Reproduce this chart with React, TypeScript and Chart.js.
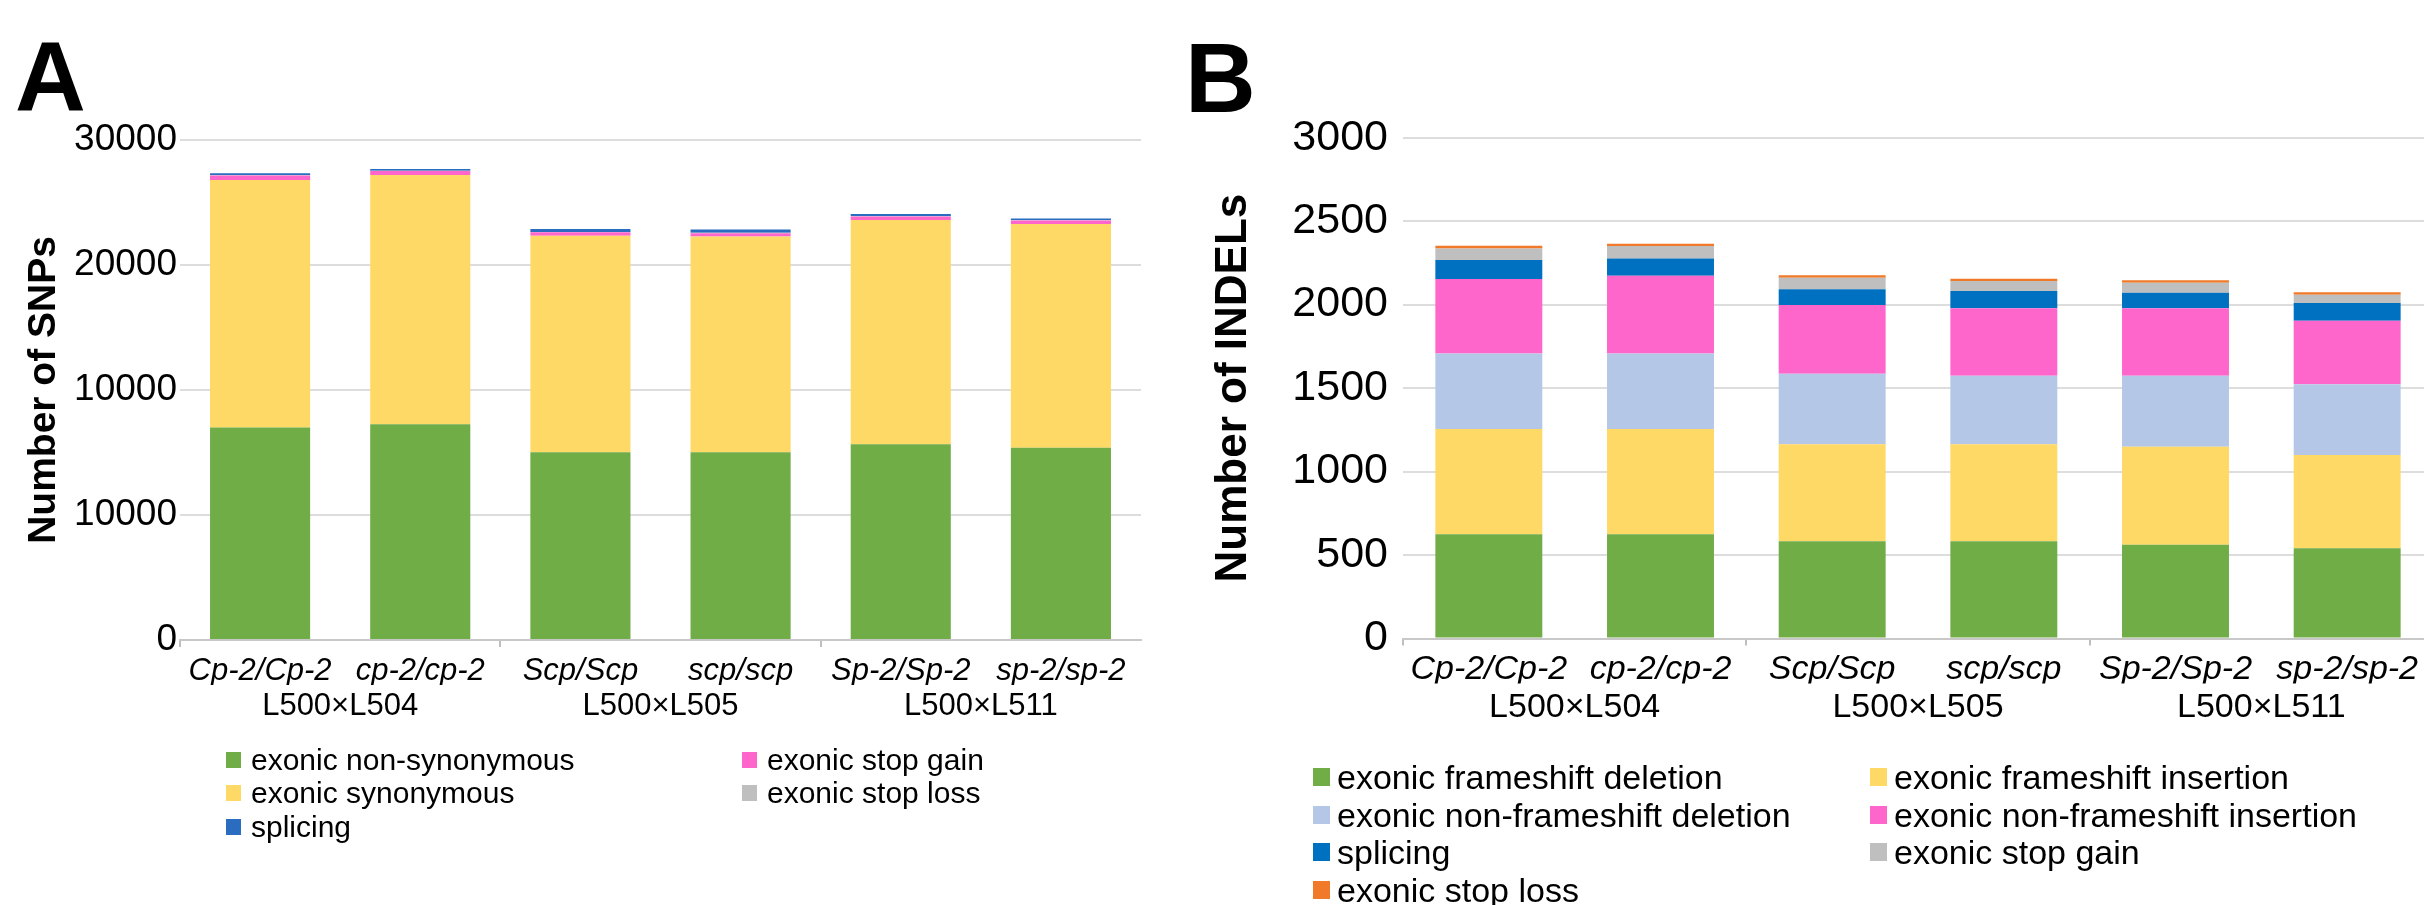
import React, { useEffect, useRef } from "react";
import { Chart, registerables } from "chart.js";

Chart.register(...registerables);

// ---------------- data ----------------
const genotypes = ["Cp-2/Cp-2", "cp-2/cp-2", "Scp/Scp", "scp/scp", "Sp-2/Sp-2", "sp-2/sp-2"];
const crosses = ["L500×L504", "L500×L505", "L500×L511"];

// Panel A: the reference y axis repeats the "10000" label; values are read on its evenly spaced gridlines
const snpTickLabels = ["0", "10000", "10000", "20000", "30000"];
const snpNonSynonymous = [17000, 17260, 15020, 15020, 15660, 15380];
const snpSynonymous = [19800, 19940, 17330, 17260, 17940, 17900];
const snpStopGain = [370, 320, 270, 270, 290, 290];
const snpStopLoss = [30, 30, 30, 30, 30, 30];
const snpSplicing = [140, 130, 230, 260, 160, 130];

// Panel B
const indelFrameshiftDel = [624, 624, 582, 582, 562, 540];
const indelFrameshiftIns = [631, 631, 581, 581, 587, 559];
const indelNonFrameshiftDel = [453, 453, 423, 411, 425, 424];
const indelNonFrameshiftIns = [445, 465, 412, 404, 404, 381];
const indelSplicing = [114, 104, 94, 104, 93, 106];
const indelStopGain = [70, 74, 69, 59, 60, 49];
const indelStopLoss = [16, 14, 15, 14, 15, 15];

// ---------------- styles ----------------
const FONT = '"Liberation Sans", Arial, Helvetica, sans-serif';
const GREEN = "#70AD47";
const YELLOW = "#FFD966";
const PINK = "#FF66CC";
const GREY = "#BFBFBF";
const BLUE_A = "#2A6CC0";
const BLUE_B = "#0070C0";
const LIGHTBLUE = "#B4C7E7";
const ORANGE = "#F07A2A";

type Series = { label: string; data: number[]; color: string };

const snpSeries: Series[] = [
  { label: "exonic non-synonymous", data: snpNonSynonymous, color: GREEN },
  { label: "exonic synonymous", data: snpSynonymous, color: YELLOW },
  { label: "exonic stop gain", data: snpStopGain, color: PINK },
  { label: "exonic stop loss", data: snpStopLoss, color: GREY },
  { label: "splicing", data: snpSplicing, color: BLUE_A },
];

const indelSeries: Series[] = [
  { label: "exonic frameshift deletion", data: indelFrameshiftDel, color: GREEN },
  { label: "exonic frameshift insertion", data: indelFrameshiftIns, color: YELLOW },
  { label: "exonic non-frameshift deletion", data: indelNonFrameshiftDel, color: LIGHTBLUE },
  { label: "exonic non-frameshift insertion", data: indelNonFrameshiftIns, color: PINK },
  { label: "splicing", data: indelSplicing, color: BLUE_B },
  { label: "exonic stop gain", data: indelStopGain, color: GREY },
  { label: "exonic stop loss", data: indelStopLoss, color: ORANGE },
];

type PanelCfg = {
  series: Series[];
  padding: { left: number; top: number; right: number; bottom: number };
  yWidth: number;
  yMax: number;
  yStep: number;
  yTickFont: number;
  yTickPad: number;
  yTickLabels?: string[];
  title: string;
  titleFont: number;
  titlePad: number;
  xFont: number;
  xPad: number;
  x2Pad: number;
  barPct: number;
};

function buildConfig(p: PanelCfg): any {
  return {
    type: "bar",
    data: {
      labels: genotypes,
      datasets: p.series.map((s) => ({
        label: s.label,
        data: s.data,
        backgroundColor: s.color,
        borderWidth: 0,
        categoryPercentage: 1,
        barPercentage: p.barPct,
      })),
    },
    options: {
      animation: false,
      responsive: false,
      maintainAspectRatio: false,
      events: [],
      layout: { padding: p.padding },
      plugins: { legend: { display: false }, tooltip: { enabled: false }, title: { display: false } },
      scales: {
        x: {
          type: "category",
          stacked: true,
          offset: true,
          position: "bottom",
          weight: 0,
          grid: {
            offset: true,
            drawOnChartArea: false,
            drawTicks: true,
            tickLength: 7,
            lineWidth: 2,
            color: (ctx: any) => (ctx.index % 2 === 0 ? "#BFBFBF" : "rgba(0,0,0,0)"),
          },
          border: { display: true, color: "#C8C8C8", width: 2 },
          ticks: {
            color: "#000",
            font: { family: FONT, size: p.xFont, style: "italic", lineHeight: 1 },
            padding: p.xPad,
            maxRotation: 0,
            minRotation: 0,
            autoSkip: false,
          },
          afterFit: (s: any) => {
            s.height = 45;
          },
        },
        x2: {
          type: "category",
          labels: crosses,
          position: "bottom",
          offset: true,
          weight: 1,
          grid: { display: false, drawTicks: false },
          border: { display: false },
          ticks: {
            color: "#000",
            font: { family: FONT, size: p.xFont, lineHeight: 1 },
            padding: p.x2Pad,
            maxRotation: 0,
            minRotation: 0,
            autoSkip: false,
          },
          afterFit: (s: any) => {
            s.height = 45;
          },
        },
        y: {
          stacked: true,
          min: 0,
          max: p.yMax,
          ticks: {
            stepSize: p.yStep,
            color: "#000",
            font: { family: FONT, size: p.yTickFont, lineHeight: 1 },
            padding: p.yTickPad,
            callback: (v: any, i: number) => (p.yTickLabels ? p.yTickLabels[i] : String(v)),
          },
          grid: { color: "#DDDDDD", lineWidth: 2, drawTicks: false },
          border: { display: false },
          title: {
            display: true,
            text: p.title,
            color: "#000",
            font: { family: FONT, size: p.titleFont, weight: "bold", lineHeight: 1 },
            padding: { top: p.titlePad, bottom: 0 },
          },
          afterFit: (s: any) => {
            s.width = p.yWidth;
          },
        },
      },
    },
  };
}

const cfgA: PanelCfg = {
  series: snpSeries,
  padding: { left: 0, top: 140, right: 59, bottom: 175 },
  yWidth: 180,
  yMax: 40000,
  yStep: 10000,
  yTickFont: 37,
  yTickPad: 3,
  yTickLabels: snpTickLabels,
  title: "Number of SNPs",
  titleFont: 39,
  titlePad: 24.5,
  xFont: 31,
  xPad: 9,
  x2Pad: 6,
  barPct: 0.625,
};

const cfgB: PanelCfg = {
  series: indelSeries,
  padding: { left: 0, top: 137.7, right: 47, bottom: 176.5 },
  yWidth: 223,
  yMax: 3000,
  yStep: 500,
  yTickFont: 43,
  yTickPad: 15,
  title: "Number of INDELs",
  titleFont: 44,
  titlePad: 31.5,
  xFont: 34,
  xPad: 7,
  x2Pad: 7.5,
  barPct: 0.623,
};

function ChartCanvas({ cfg, left, width }: { cfg: PanelCfg; left: number; width: number }) {
  const ref = useRef<HTMLCanvasElement | null>(null);
  useEffect(() => {
    if (!ref.current) return;
    const chart = new Chart(ref.current, buildConfig(cfg));
    return () => chart.destroy();
  }, [cfg]);
  return (
    <canvas
      ref={ref}
      width={width}
      height={905}
      style={{ position: "absolute", left, top: 0, width, height: 905, display: "block" }}
    />
  );
}

type LegendCol = { x: number; labels: string[] };

function Legend({
  series,
  cols,
  rows,
  fontSize,
  sq,
  textOffset,
}: {
  series: Series[];
  cols: LegendCol[];
  rows: number[];
  fontSize: number;
  sq: { w: number; h: number };
  textOffset: number;
}) {
  const items: React.ReactNode[] = [];
  cols.forEach((c, ci) => {
    c.labels.forEach((lab, ri) => {
      const s = series.find((q) => q.label === lab)!;
      const y = rows[ri];
      items.push(
        <div
          key={`sq-${ci}-${ri}`}
          style={{ position: "absolute", left: c.x, top: y - sq.h / 2, width: sq.w, height: sq.h, background: s.color }}
        />
      );
      items.push(
        <div
          key={`tx-${ci}-${ri}`}
          style={{
            position: "absolute",
            left: c.x + textOffset,
            top: y - 0.4885 * fontSize,
            fontFamily: FONT,
            fontSize,
            lineHeight: `${fontSize}px`,
            whiteSpace: "nowrap",
            color: "#000",
          }}
        >
          {lab}
        </div>
      );
    });
  });
  return <>{items}</>;
}

export default function App() {
  return (
    <div
      style={{
        position: "fixed",
        left: 0,
        top: 0,
        width: 2424,
        height: 905,
        overflow: "hidden",
        background: "#fff",
      }}
    >
      <ChartCanvas cfg={cfgA} left={0} width={1200} />
      <ChartCanvas cfg={cfgB} left={1180} width={1300} />
      <div
        style={{
          position: "absolute",
          left: 15,
          top: 27,
          fontFamily: FONT,
          fontWeight: "bold",
          fontSize: 98,
          lineHeight: "98px",
          color: "#000",
        }}
      >
        A
      </div>
      <div
        style={{
          position: "absolute",
          left: 1185,
          top: 29,
          fontFamily: FONT,
          fontWeight: "bold",
          fontSize: 98,
          lineHeight: "98px",
          color: "#000",
        }}
      >
        B
      </div>
      <Legend
        series={snpSeries}
        cols={[
          { x: 226, labels: ["exonic non-synonymous", "exonic synonymous", "splicing"] },
          { x: 742, labels: ["exonic stop gain", "exonic stop loss"] },
        ]}
        rows={[760, 793, 827]}
        fontSize={30}
        sq={{ w: 15, h: 16 }}
        textOffset={25}
      />
      <Legend
        series={indelSeries}
        cols={[
          {
            x: 1313,
            labels: ["exonic frameshift deletion", "exonic non-frameshift deletion", "splicing", "exonic stop loss"],
          },
          { x: 1870, labels: ["exonic frameshift insertion", "exonic non-frameshift insertion", "exonic stop gain"] },
        ]}
        rows={[777, 815, 852, 890]}
        fontSize={34}
        sq={{ w: 17, h: 18 }}
        textOffset={24}
      />
    </div>
  );
}
